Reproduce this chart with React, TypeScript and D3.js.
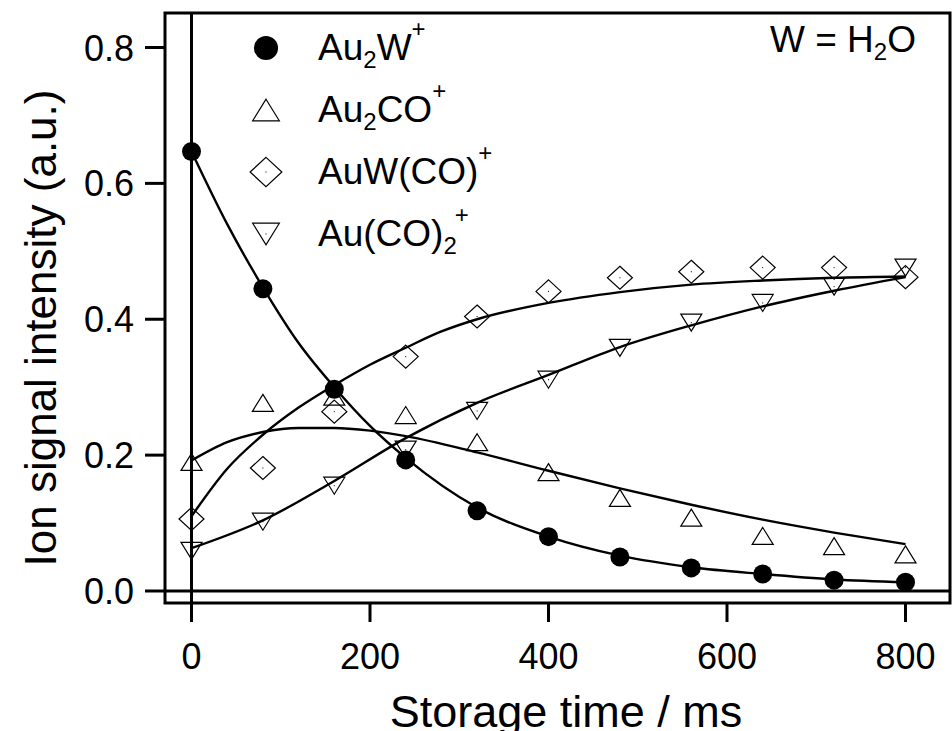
import React from "react";
import * as d3 from "d3";

// measured points (storage time in ms)
const times = [0, 80, 160, 240, 320, 400, 480, 560, 640, 720, 800];
const au2w = [0.647, 0.445, 0.297, 0.193, 0.118, 0.080, 0.050, 0.034, 0.025, 0.016, 0.013];
const au2co = [0.190, 0.277, 0.286, 0.259, 0.219, 0.175, 0.137, 0.108, 0.081, 0.066, 0.054];
const auwco = [0.106, 0.181, 0.264, 0.345, 0.404, 0.441, 0.461, 0.470, 0.476, 0.476, 0.462];
const auco2 = [0.059, 0.102, 0.155, 0.208, 0.265, 0.311, 0.358, 0.395, 0.424, 0.448, 0.476];

// fitted curves
const fitAu2wT = [0, 40, 80, 120, 160, 200, 240, 320, 400, 480, 560, 640, 720, 800];
const fitAu2w = [0.647, 0.540, 0.447, 0.365, 0.300, 0.243, 0.196, 0.123, 0.080, 0.052, 0.035, 0.025, 0.017, 0.013];
const fitAu2coT = [0, 40, 80, 120, 160, 200, 240, 320, 400, 480, 560, 640, 720, 800];
const fitAu2co = [0.192, 0.219, 0.234, 0.240, 0.240, 0.236, 0.228, 0.204, 0.177, 0.151, 0.127, 0.105, 0.086, 0.069];
const fitAuwcoT = [0, 40, 80, 120, 160, 200, 240, 280, 320, 400, 480, 560, 640, 720, 800];
const fitAuwco = [0.110, 0.180, 0.230, 0.270, 0.303, 0.333, 0.358, 0.382, 0.400, 0.424, 0.440, 0.451, 0.457, 0.461, 0.463];
const fitAuco2T = [0, 80, 160, 240, 320, 400, 480, 560, 640, 720, 800];
const fitAuco2 = [0.063, 0.104, 0.162, 0.225, 0.277, 0.318, 0.359, 0.391, 0.419, 0.442, 0.462];

const xTicks = [0, 200, 400, 600, 800];
const yTicks = [0, 0.2, 0.4, 0.6, 0.8];

const FONT = "'Liberation Sans', Arial, Helvetica, sans-serif";

type Shape = "circle" | "up" | "diamond" | "down";

function Marker({ shape, cx, cy, s = 1 }: { shape: Shape; cx: number; cy: number; s?: number }) {
  const dot = <rect x={cx - 0.5} y={cy - 0.5} width={1} height={1} fill="#000" />;
  if (shape === "circle") return <circle cx={cx} cy={cy} r={9.5 * s} fill="#000" />;
  if (shape === "up") {
    const w = 10.5 * s, h = 8.5 * s;
    return (
      <g>
        <path d={`M${cx},${cy - h}L${cx + w},${cy + h}L${cx - w},${cy + h}Z`} fill="none" stroke="#000" strokeWidth={1.2} />
      </g>
    );
  }
  if (shape === "down") {
    const w = 10.5 * s, h = 8.5 * s;
    return (
      <g>
        <path d={`M${cx - w},${cy - h}L${cx + w},${cy - h}L${cx},${cy + h}Z`} fill="none" stroke="#000" strokeWidth={1.2} />
        {dot}
      </g>
    );
  }
  const w = 12.5 * s, h = 11.5 * s;
  return (
    <g>
      <path d={`M${cx},${cy - h}L${cx + w},${cy}L${cx},${cy + h}L${cx - w},${cy}Z`} fill="none" stroke="#000" strokeWidth={1.2} />
      {dot}
    </g>
  );
}

export default function App() {
  const W = 952, H = 731;
  const x = d3.scaleLinear().domain([0, 800]).range([191.5, 905.5]);
  const y = d3.scaleLinear().domain([0, 0.8]).range([591, 47.5]);
  const frame = { l: 165, r: 950, t: 13, b: 603 };

  const line = d3
    .line<[number, number]>()
    .x((d) => x(d[0]))
    .y((d) => y(d[1]))
    .curve(d3.curveMonotoneX);

  const fits: [number[], number[]][] = [
    [fitAu2wT, fitAu2w],
    [fitAu2coT, fitAu2co],
    [fitAuwcoT, fitAuwco],
    [fitAuco2T, fitAuco2],
  ];
  const series: { vals: number[]; shape: Shape }[] = [
    { vals: au2w, shape: "circle" },
    { vals: au2co, shape: "up" },
    { vals: auwco, shape: "diamond" },
    { vals: auco2, shape: "down" },
  ];

  const legendRows = [
    { shape: "circle" as Shape, base: 60, parts: [["Au", 0], ["2", 1], ["W", 0], ["+", 2]] },
    { shape: "up" as Shape, base: 122, parts: [["Au", 0], ["2", 1], ["CO", 0], ["+", 2]] },
    { shape: "diamond" as Shape, base: 184, parts: [["AuW(CO)", 0], ["+", 2]] },
    { shape: "down" as Shape, base: 246, parts: [["Au(CO)", 0], ["2", 1], ["+", 2]] },
  ];

  const renderParts = (parts: (string | number)[][]) => {
    let cur = 0; // current offset from baseline
    return parts.map((p, i) => {
      const [txt, kind] = p as [string, number];
      const target = kind === 1 ? 8 : kind === 2 ? -23 : 0;
      let dx = 0;
      if (kind === 2 && i > 0 && (parts[i - 1][1] as number) === 1) dx = -2;
      const dy = target - cur;
      cur = target;
      return (
        <tspan key={i} dy={dy} dx={dx} fontSize={kind === 0 ? 37 : 24}>
          {txt}
        </tspan>
      );
    });
  };

  return (
    <svg width={W} height={H} style={{ position: "absolute", left: 0, top: 0, background: "#fff" }} fontFamily={FONT}>
      <rect x={0} y={0} width={W} height={H} fill="#fff" />
      {/* frame */}
      <rect x={frame.l} y={frame.t} width={frame.r - frame.l} height={frame.b - frame.t} fill="none" stroke="#000" strokeWidth={3} />
      {/* zero lines */}
      <line x1={frame.l} x2={frame.r} y1={y(0)} y2={y(0)} stroke="#000" strokeWidth={3} />
      <line x1={x(0)} x2={x(0)} y1={frame.t} y2={frame.b} stroke="#000" strokeWidth={3} />
      {/* y ticks */}
      {yTicks.map((t) => (
        <g key={t}>
          <line x1={145} x2={frame.l} y1={y(t)} y2={y(t)} stroke="#000" strokeWidth={3} />
          <text x={134} y={y(t) + 13} textAnchor="end" fontSize={36}>
            {t.toFixed(1)}
          </text>
        </g>
      ))}
      {/* x ticks */}
      {xTicks.map((t) => (
        <g key={t}>
          <line x1={x(t)} x2={x(t)} y1={frame.b} y2={622} stroke="#000" strokeWidth={3} />
          <text x={x(t)} y={669} textAnchor="middle" fontSize={36}>
            {t}
          </text>
        </g>
      ))}
      {/* axis titles */}
      <text x={566} y={727} textAnchor="middle" fontSize={45}>
        Storage time / ms
      </text>
      <text transform="translate(56,328) rotate(-90)" textAnchor="middle" fontSize={44}>
        Ion signal intensity (a.u.)
      </text>
      {/* markers */}
      {series.map((s, si) => (
        <g key={si}>
          {s.vals.map((v, i) => (
            <Marker key={i} shape={s.shape} cx={x(times[i])} cy={y(v)} />
          ))}
        </g>
      ))}
      {/* fit curves */}
      {fits.map(([ts, vs], i) => (
        <path key={i} d={line(ts.map((t, j) => [t, vs[j]] as [number, number])) || ""} fill="none" stroke="#000" strokeWidth={2.4} />
      ))}
      {/* legend */}
      {legendRows.map((r, i) => (
        <g key={i}>
          <Marker shape={r.shape} cx={266} cy={r.base - 12} s={1.27} />
          <text x={318} y={r.base} fontSize={37}>
            {renderParts(r.parts)}
          </text>
        </g>
      ))}
      {/* annotation */}
      <text x={770} y={52} fontSize={37}>
        <tspan>W = H</tspan>
        <tspan fontSize={24} dy={8}>2</tspan>
        <tspan dy={-8}>O</tspan>
      </text>
    </svg>
  );
}
